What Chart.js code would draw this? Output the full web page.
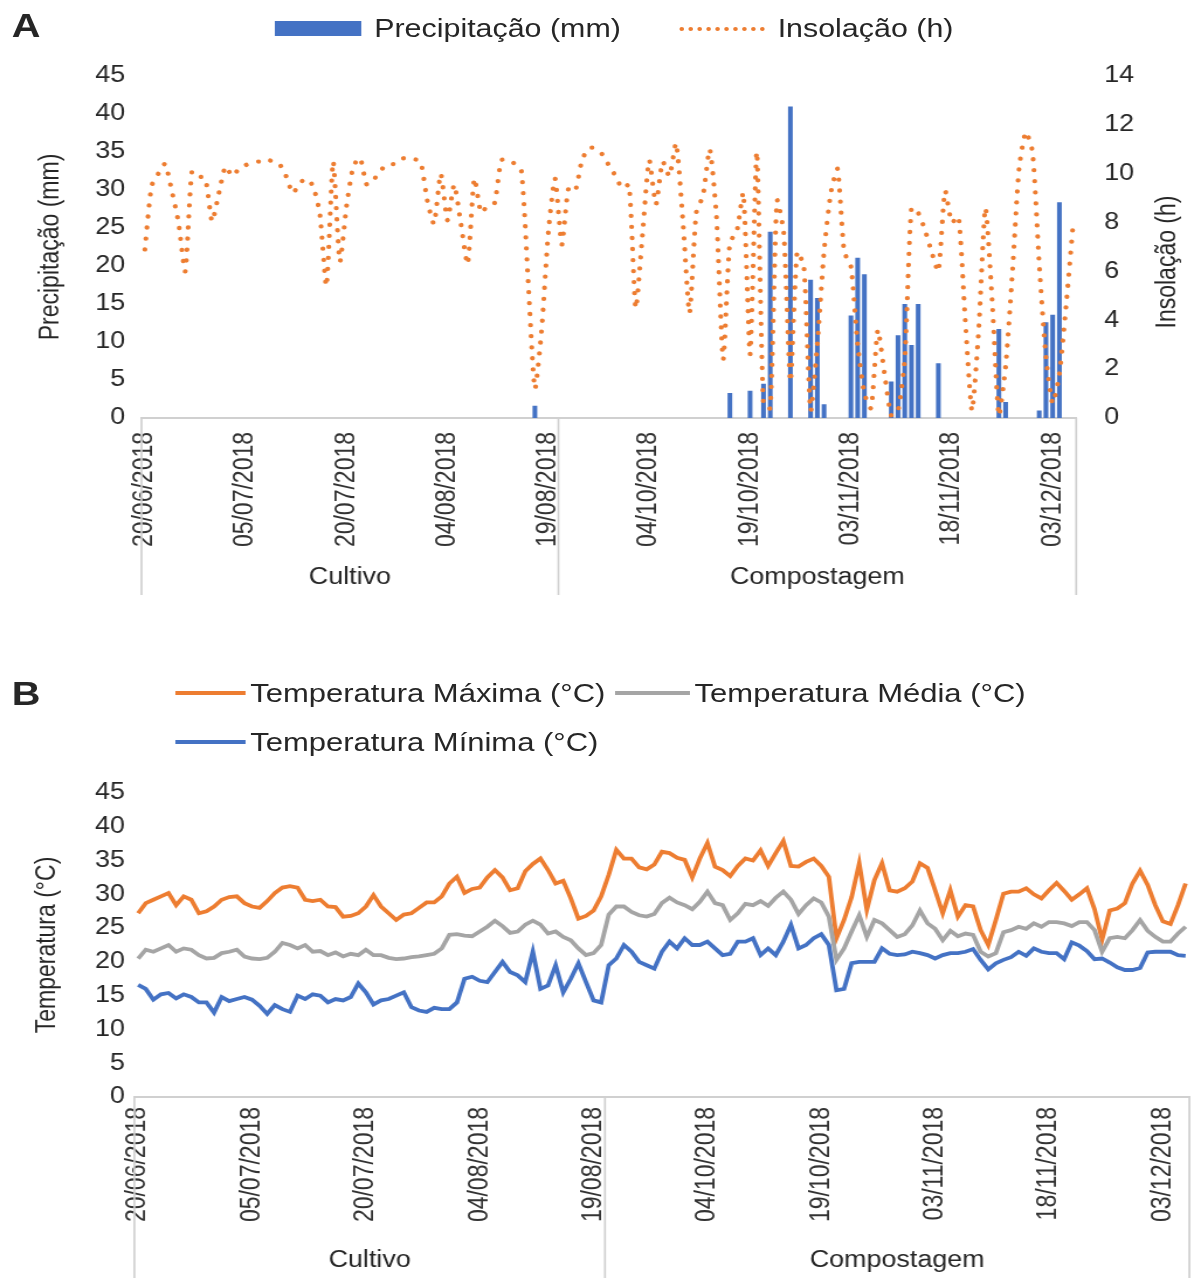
<!DOCTYPE html>
<html lang="pt">
<head>
<meta charset="utf-8">
<title>Precipitação, insolação e temperatura</title>
<script src="https://cdn.jsdelivr.net/npm/chart.js@4.4.1/dist/chart.umd.min.js"></script>
<style>
  html, body { margin: 0; padding: 0; background: #fff; }
  body { width: 1194px; height: 1278px; overflow: hidden; position: relative;
         font-family: 'Liberation Sans', Arial, sans-serif; color: #262626; }
  /* the reference is stretched sideways, so the whole page is drawn narrow and widened */
  #page { position: absolute; left: 0; top: 0; width: 1021px; height: 1278px;
          transform: scaleX(1.1694); transform-origin: 0 0; }
  .letter { position: absolute; font-weight: bold; font-size: 34px; line-height: 34px; }
  .leg { position: absolute; height: 30px; line-height: 30px; font-size: 26px; white-space: nowrap; }
  .swatch { position: absolute; }
  #wrapA { position: absolute; left: 0; top: 0; width: 1021px; height: 610px; }
  #wrapB { position: absolute; left: 0; top: 640px; width: 1021px; height: 638px; }
</style>
</head>
<body>
<div id="page">
  <div class="letter" style="left:10px; top:8px;">A</div>
  <div class="swatch" style="left:235px; top:21px; width:74px; height:15px; background:#4472C4;"></div>
  <div class="leg" style="left:320px; top:13px;">Precipitação (mm)</div>
  <div class="swatch" style="left:581px; top:27px; width:73px; height:0; border-top:4px dotted #ED7D31;"></div>
  <div class="leg" style="left:665px; top:13px;">Insolação (h)</div>

  <div id="wrapA"><canvas id="chartA"></canvas></div>

  <div class="letter" style="left:10px; top:676px;">B</div>
  <div class="swatch" style="left:150px; top:691px; width:60px; height:4px; background:#ED7D31;"></div>
  <div class="leg" style="left:214px; top:678px; font-size:26.5px;">Temperatura Máxima (°C)</div>
  <div class="swatch" style="left:526px; top:691px; width:64px; height:4px; background:#A5A5A5;"></div>
  <div class="leg" style="left:594px; top:678px; font-size:26.5px;">Temperatura Média (°C)</div>
  <div class="swatch" style="left:150px; top:740px; width:60px; height:4px; background:#4472C4;"></div>
  <div class="leg" style="left:214px; top:727px; font-size:26.5px;">Temperatura Mínima (°C)</div>

  <div id="wrapB"><canvas id="chartB"></canvas></div>
</div>

<script>
// periods of the experiment (one category per day)
const phaseNames = ['Cultivo', 'Compostagem'];
const phaseStart = ['2018-06-20', '2018-09-21'];
const phaseEnd = ['2018-08-20', '2018-12-06'];
const labelEvery = 15;

// Precipitação (mm)
const precipCultivo = [
  0, 0, 0, 0, 0, 0, 0, 0, 0, 0,
  0, 0, 0, 0, 0, 0, 0, 0, 0, 0,
  0, 0, 0, 0, 0, 0, 0, 0, 0, 0,
  0, 0, 0, 0, 0, 0, 0, 0, 0, 0,
  0, 0, 0, 0, 0, 0, 0, 0, 0, 0,
  0, 0, 0, 0, 0, 0, 0, 0, 1.6, 0,
  0, 0
];
const precipCompostagem = [
  0, 0, 0, 0, 0, 0, 0, 0, 0, 0,
  0, 0, 0, 0, 0, 0, 0, 0, 0, 0,
  0, 0, 0, 0, 0, 3.3, 0, 0, 3.6, 0,
  4.5, 24.5, 0, 0, 41.0, 0, 0, 18.2, 15.8, 1.8,
  0, 0, 0, 13.5, 21.1, 18.9, 0, 0, 0, 4.8,
  10.9, 15.0, 9.6, 15.0, 0, 0, 7.2, 0, 0, 0,
  0, 0, 0, 0, 0, 11.7, 2.1, 0, 0, 0,
  0, 1.0, 12.6, 13.6, 28.4, 0, 0
];

// Insolação (h)
const insolCultivo = [
  6.9, 9.5, 10.0, 10.4, 9.3, 8.0, 6.0, 10.1, 9.9, 9.8,
  8.05, 9.2, 10.3, 9.9, 10.2, 10.35, 10.5, 10.5, 10.6, 10.5,
  10.4, 9.9, 9.2, 9.6, 9.8, 9.5, 8.4, 5.4, 10.5, 6.4,
  8.7, 10.3, 10.65, 9.55, 9.75, 10.1, 10.4, 10.4, 10.6, 10.65,
  10.6, 10.5, 8.9, 7.95, 10.0, 8.1, 9.55, 7.95, 6.3, 9.8,
  8.4, 8.7, 8.8, 10.55, 10.6, 10.4, 10.1, 5.6, 1.2, 3.6,
  7.6, 9.8
];
const insolCompostagem = [
  7.1, 9.4, 9.3, 10.55, 11.05, 11.05, 10.8, 10.35, 9.9, 9.4,
  9.55, 4.5, 7.5, 10.55, 8.75, 10.5, 9.9, 11.25, 8.1, 4.3,
  8.4, 9.1, 11.0, 8.25, 2.4, 7.2, 7.6, 9.2, 2.6, 10.9,
  0.5, 0.4, 8.9, 7.6, 1.5, 6.8, 6.2, 0.3, 3.0, 6.8,
  9.2, 10.2, 6.8, 6.2, 3.0, 1.0, 0.4, 3.6, 1.8, 0.1,
  0.3, 2.4, 8.6, 8.4, 7.7, 6.8, 6.0, 9.3, 8.0, 8.25,
  4.0, 0.3, 3.6, 8.6, 4.8, 0.1, 2.1, 5.9, 10.2, 11.7,
  10.9, 6.3, 2.5, 0.6, 1.8, 4.6, 7.8
];

// Temperatura Máxima (°C)
const tmaxCultivo = [
  27.2, 28.7, 29.2, 29.7, 30.2, 28.4, 29.7, 29.2, 27.2, 27.5,
  28.2, 29.2, 29.6, 29.7, 28.7, 28.2, 28.0, 29.0, 30.2, 31.0,
  31.2, 31.0, 29.2, 29.0, 29.2, 28.2, 28.1, 26.7, 26.8, 27.2,
  28.2, 29.9, 28.2, 27.2, 26.2, 27.0, 27.2, 28.0, 28.8, 28.8,
  29.7, 31.6, 32.6, 30.2, 30.8, 31.0, 32.5, 33.6, 32.5, 30.6,
  30.9, 33.4, 34.5, 35.3, 33.6, 31.6, 32.0, 29.4, 26.4, 26.8,
  27.6, 29.7
];
const tmaxCompostagem = [
  32.9, 36.6, 35.3, 35.3, 34.0, 33.7, 34.4, 36.3, 36.1, 35.4,
  35.1, 32.5, 35.3, 37.6, 34.1, 33.6, 32.7, 34.2, 35.3, 35.0,
  36.5, 34.2, 36.1, 37.9, 34.2, 34.1, 34.8, 35.3, 34.2, 32.6,
  23.5, 26.2, 29.6, 34.6, 27.7, 32.1, 34.6, 30.6, 30.4, 30.9,
  31.9, 34.6, 33.9, 30.6, 27.2, 30.6, 26.7, 28.4, 28.2, 24.7,
  22.5, 26.2, 30.1, 30.4, 30.4, 30.9, 30.0, 29.4, 30.6, 31.7,
  30.5, 29.2, 30.0, 30.9, 27.8, 23.3, 27.6, 27.9, 28.7, 31.6,
  33.5, 31.4, 28.4, 26.0, 25.6, 28.4, 31.6
];

// Temperatura Média (°C)
const tmedCultivo = [
  20.5, 21.8, 21.5, 22.0, 22.5, 21.5, 22.0, 21.8, 21.0, 20.5,
  20.6, 21.3, 21.5, 21.8, 20.8, 20.5, 20.4, 20.6, 21.5, 22.8,
  22.5, 22.0, 22.5, 21.5, 21.6, 21.0, 21.4, 20.8, 21.2, 21.0,
  21.8, 21.0, 21.0, 20.6, 20.4, 20.5, 20.7, 20.8, 21.0, 21.2,
  22.0, 24.0, 24.1, 23.9, 23.8, 24.5, 25.2, 26.1, 25.3, 24.3,
  24.5, 25.5, 26.1, 25.5, 24.2, 24.5, 23.7, 23.2, 22.0, 21.0,
  21.3, 22.5
];
const tmedCompostagem = [
  27.0, 28.2, 28.2, 27.4, 26.9, 26.7, 27.1, 28.7, 29.5, 28.8,
  28.4, 27.8, 28.9, 30.4, 28.7, 28.4, 26.2, 27.2, 28.6, 28.4,
  29.0, 28.3, 29.5, 30.4, 29.2, 27.1, 28.4, 29.4, 28.8, 26.7,
  20.3, 22.0, 24.5, 26.9, 23.7, 26.2, 25.7, 24.7, 23.7, 24.1,
  25.4, 27.6, 25.7, 24.9, 23.2, 24.6, 23.8, 24.2, 24.0, 21.5,
  20.8, 21.3, 24.4, 24.7, 25.2, 24.9, 25.7, 25.2, 25.9, 25.9,
  25.7, 25.3, 25.9, 25.9, 24.7, 21.5, 23.5, 23.7, 23.5, 24.7,
  26.2, 24.6, 23.7, 23.0, 23.0, 24.2, 25.2
];

// Temperatura Mínima (°C)
const tminCultivo = [
  16.6, 16.0, 14.4, 15.2, 15.4, 14.6, 15.2, 14.8, 14.0, 14.0,
  12.5, 14.8, 14.2, 14.5, 14.8, 14.4, 13.5, 12.3, 13.6, 13.0,
  12.6, 15.0, 14.5, 15.2, 15.0, 14.0, 14.5, 14.3, 14.8, 16.8,
  15.5, 13.7, 14.3, 14.5, 15.0, 15.5, 13.3, 12.8, 12.6, 13.2,
  13.0, 13.0, 14.0, 17.5, 17.8, 17.2, 17.0, 18.5, 20.0, 18.5,
  18.0, 17.0, 21.5, 16.0, 16.5, 19.5, 15.5, 17.5, 19.8, 17.0,
  14.3, 14.0
];
const tminCompostagem = [
  19.5, 20.5, 22.5, 21.5, 20.0, 19.5, 19.0, 21.5, 23.0, 22.0,
  23.5, 22.5, 22.5, 23.0, 22.0, 21.0, 21.2, 23.0, 23.0, 23.5,
  21.0, 22.0, 21.0, 23.0, 25.5, 22.0, 22.5, 23.5, 24.1, 22.5,
  15.8, 16.0, 19.8, 20.0, 20.0, 20.0, 22.0, 21.2, 21.0, 21.1,
  21.5, 21.3, 21.0, 20.5, 21.0, 21.3, 21.3, 21.5, 21.9, 20.3,
  18.9, 19.8, 20.3, 20.7, 21.5, 20.9, 22.0, 21.5, 21.3, 21.3,
  20.4, 22.9, 22.4, 21.6, 20.4, 20.5, 19.9, 19.2, 18.8, 18.8,
  19.1, 21.4, 21.5, 21.5, 21.5, 21.0, 20.9
];

function dayLabels(start, end) {
  const out = [];
  const d = new Date(start + 'T00:00:00Z');
  const last = new Date(end + 'T00:00:00Z');
  while (d <= last) {
    out.push(String(d.getUTCDate()).padStart(2, '0') + '/' +
      String(d.getUTCMonth() + 1).padStart(2, '0') + '/' + d.getUTCFullYear());
    d.setUTCDate(d.getUTCDate() + 1);
  }
  return out;
}

const phaseDays = phaseNames.map((_, i) => dayLabels(phaseStart[i], phaseEnd[i]));
const labels = phaseDays.flat();
const groups = phaseNames.map((name, i) => ({ name, count: phaseDays[i].length }));

const FONT = "'Liberation Sans', Arial, sans-serif";
Chart.defaults.font.family = FONT;
Chart.defaults.color = '#262626';

// Excel-like second row of the category axis (Cultivo / Compostagem)
const groupAxis = {
  id: 'groupAxis',
  afterDraw(chart, args, opts) {
    const x = chart.scales.x;
    const ctx = chart.ctx;
    const half = (x.getPixelForValue(1) - x.getPixelForValue(0)) / 2;
    ctx.save();
    ctx.strokeStyle = opts.lineColor;
    ctx.lineWidth = opts.lineWidth;
    ctx.fillStyle = opts.color;
    ctx.font = opts.font;
    ctx.textAlign = 'center';
    ctx.textBaseline = 'middle';
    let first = 0;
    opts.groups.forEach((g, k) => {
      const left = x.getPixelForValue(first) - half;
      const right = x.getPixelForValue(first + g.count - 1) + half;
      ctx.beginPath();
      ctx.moveTo(left, x.top);
      ctx.lineTo(left, x.top + opts.lineLength);
      if (k === opts.groups.length - 1) {
        ctx.moveTo(right, x.top);
        ctx.lineTo(right, x.top + opts.lineLength);
      }
      ctx.stroke();
      ctx.fillText(g.name, (left + right) / 2, x.top + opts.labelY);
      first += g.count;
    });
    ctx.restore();
  }
};

// secondary axis title, read from bottom to top like the primary one
const sideTitle = {
  id: 'sideTitle',
  afterDraw(chart, args, opts) {
    if (!opts.text) return;
    const s = chart.scales[opts.axis];
    const ctx = chart.ctx;
    ctx.save();
    ctx.fillStyle = opts.color;
    ctx.font = opts.font;
    ctx.textAlign = 'center';
    ctx.textBaseline = 'middle';
    ctx.translate(s.left + opts.offsetX, (s.top + s.bottom) / 2 + opts.offsetY);
    ctx.rotate(-Math.PI / 2);
    ctx.fillText(opts.text, 0, 0);
    ctx.restore();
  }
};

function dateAxis(height, padding) {
  return {
    type: 'category',
    offset: true,
    grid: { display: false, drawTicks: false },
    border: { display: true, color: '#d0d0d0', width: 2 },
    ticks: {
      autoSkip: false,
      minRotation: 90,
      maxRotation: 90,
      padding: padding,
      color: '#333',
      font: { size: 23 },
      callback: function (value, index) {
        return index % labelEvery === 0 ? this.getLabelForValue(value) : '';
      }
    },
    afterFit: (scale) => {
      scale.height = height;
      // the plot area is set by the layout padding, not by the rotated labels
      scale.paddingLeft = 0;
      scale.paddingRight = 0;
    }
  };
}

function groupOptions(labelY, lineLength) {
  return {
    groups: groups,
    lineColor: '#d0d0d0',
    lineWidth: 1.7,
    lineLength: lineLength,
    labelY: labelY,
    color: '#262626',
    font: '23px ' + FONT
  };
}

new Chart(document.getElementById('chartA'), {
  data: {
    labels: labels,
    datasets: [
      {
        type: 'line',
        label: 'Insolação (h)',
        data: insolCultivo.concat(insolCompostagem),
        yAxisID: 'y2',
        borderColor: '#ED7D31',
        borderWidth: 4.3,
        borderDash: [0.01, 11],
        borderCapStyle: 'round',
        pointRadius: 0,
        tension: 0.2,
        order: 0
      },
      {
        type: 'bar',
        label: 'Precipitação (mm)',
        data: precipCultivo.concat(precipCompostagem),
        yAxisID: 'y',
        backgroundColor: '#4472C4',
        categoryPercentage: 1,
        barPercentage: 0.7,
        order: 1
      }
    ]
  },
  options: {
    responsive: true,
    maintainAspectRatio: false,
    animation: false,
    devicePixelRatio: 1,
    layout: { padding: { top: 76, right: 0, bottom: 0, left: 0 } },
    plugins: {
      legend: { display: false },
      tooltip: { enabled: false },
      groupAxis: groupOptions(160, 177),
      sideTitle: {
        axis: 'y2',
        text: 'Insolação (h)',
        offsetX: 78,
        offsetY: 15,
        color: '#262626',
        font: '23px ' + FONT
      }
    },
    scales: {
      x: dateAxis(192, 14),
      y: {
        position: 'left',
        min: 0,
        max: 45,
        grid: { display: false, drawTicks: false },
        border: { display: false },
        ticks: { stepSize: 5, padding: 14, font: { size: 23 }, color: '#262626' },
        title: {
          display: true,
          text: 'Precipitação (mm)',
          color: '#262626',
          font: { size: 23 },
          padding: { top: 30, bottom: 0 }
        },
        afterFit: (scale) => { scale.width = 121; }
      },
      y2: {
        position: 'right',
        min: 0,
        max: 14,
        grid: { display: false, drawTicks: false },
        border: { display: false },
        ticks: { stepSize: 2, padding: 24, font: { size: 23 }, color: '#262626' },
        afterFit: (scale) => { scale.width = 100.7; }
      }
    }
  },
  plugins: [groupAxis, sideTitle]
});

new Chart(document.getElementById('chartB'), {
  type: 'line',
  data: {
    labels: labels,
    datasets: [
      {
        label: 'Temperatura Máxima (°C)',
        data: tmaxCultivo.concat(tmaxCompostagem),
        borderColor: '#ED7D31',
        borderWidth: 3.8,
        pointRadius: 0,
        tension: 0,
        order: 2
      },
      {
        label: 'Temperatura Média (°C)',
        data: tmedCultivo.concat(tmedCompostagem),
        borderColor: '#A5A5A5',
        borderWidth: 3.8,
        pointRadius: 0,
        tension: 0,
        order: 1
      },
      {
        label: 'Temperatura Mínima (°C)',
        data: tminCultivo.concat(tminCompostagem),
        borderColor: '#4472C4',
        borderWidth: 3.8,
        pointRadius: 0,
        tension: 0,
        order: 0
      }
    ]
  },
  options: {
    responsive: true,
    maintainAspectRatio: false,
    animation: false,
    devicePixelRatio: 1,
    layout: { padding: { top: 153, right: 3.9, bottom: 0, left: 0 } },
    plugins: {
      legend: { display: false },
      tooltip: { enabled: false },
      groupAxis: groupOptions(164, 181)
    },
    scales: {
      x: dateAxis(181, 10),
      y: {
        min: 0,
        max: 45,
        grid: { display: false, drawTicks: false },
        border: { display: false },
        ticks: { stepSize: 5, padding: 8, font: { size: 23 }, color: '#262626' },
        title: {
          display: true,
          text: 'Temperatura (°C)',
          color: '#262626',
          font: { size: 23 },
          padding: { top: 27, bottom: 0 }
        },
        afterFit: (scale) => { scale.width = 114.9; }
      }
    }
  },
  plugins: [groupAxis]
});
</script>
</body>
</html>
